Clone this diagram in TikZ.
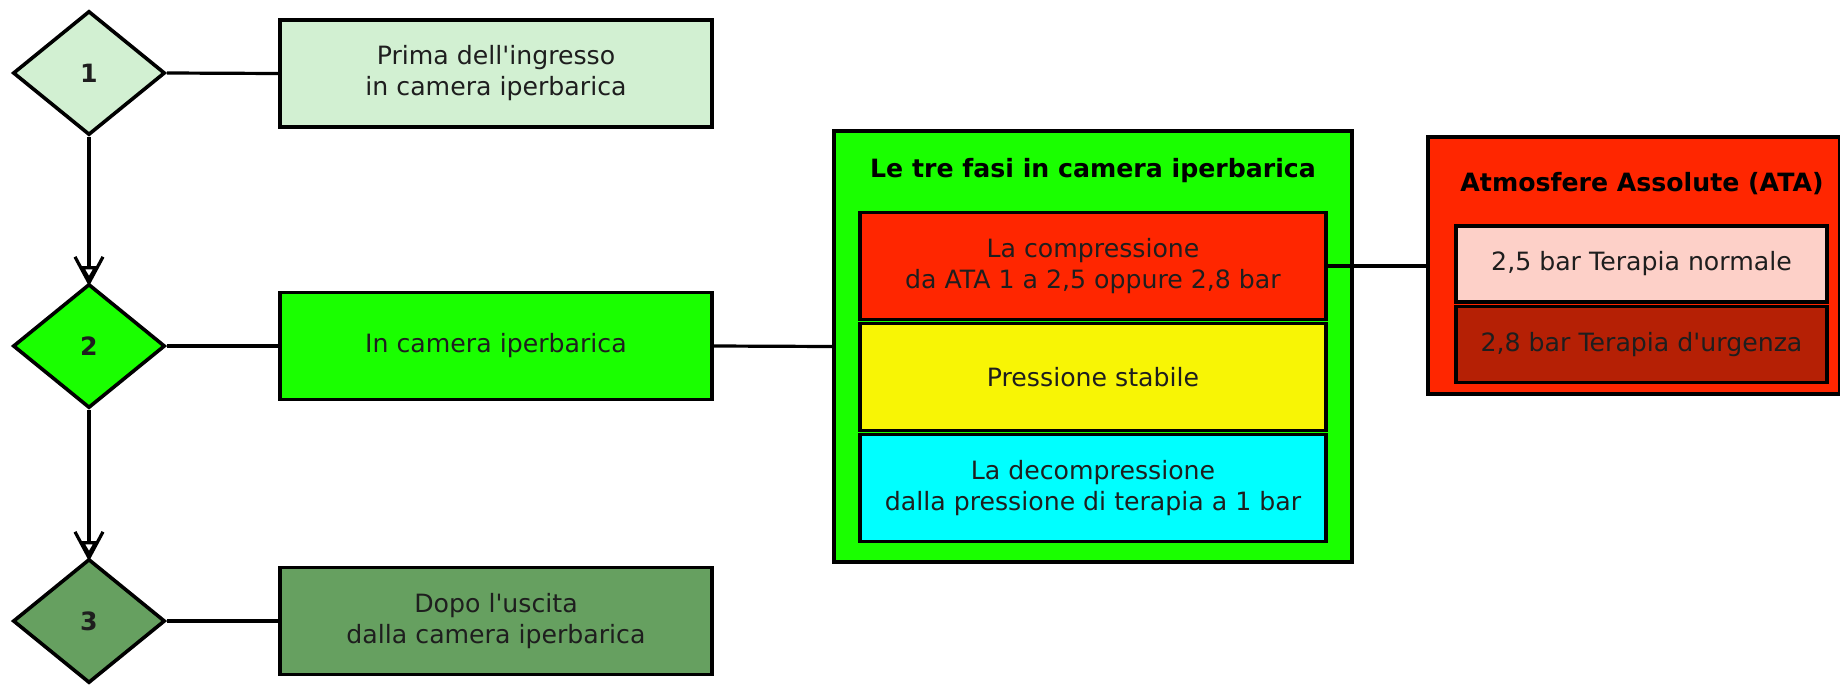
\documentclass[tikz,border=0pt]{standalone}
\usepackage{fontspec}
\setmainfont{DejaVu Sans}
\usetikzlibrary{shapes.geometric,arrows.meta}

\definecolor{paleverde}{RGB}{210,240,210}
\definecolor{verde}{RGB}{26,255,0}
\definecolor{verdescuro}{RGB}{102,160,96}
\definecolor{rosso}{RGB}{255,38,0}
\definecolor{giallo}{RGB}{248,245,5}
\definecolor{ciano}{RGB}{0,255,255}
\definecolor{rosa}{RGB}{253,208,200}
\definecolor{rossoscuro}{RGB}{181,32,5}
\definecolor{testo}{RGB}{30,30,30}

\tikzset{
  every node/.style={font=\fontsize{12.6}{15.5}\selectfont, text=testo},
  fase/.style={diamond, draw, line width=1.8pt, minimum width=76pt,
    minimum height=62pt, aspect=1.23, inner sep=0pt,
    font=\fontsize{12.6}{15.5}\selectfont\bfseries},
  tappa/.style={draw, line width=1.8pt, minimum width=216pt,
    minimum height=53.5pt, inner sep=0pt, align=center},
  gruppo/.style={draw, line width=1.8pt, inner sep=0pt},
  voce/.style={draw, line width=1.8pt, minimum width=233pt,
    minimum height=53.5pt, inner sep=0pt, align=center},
  pressione/.style={draw, line width=1.8pt, minimum width=185.5pt,
    minimum height=38pt, inner sep=0pt, align=center},
  titolo/.style={font=\fontsize{12.6}{15.5}\selectfont\bfseries, text=black},
  filo/.style={line width=1.6pt},
  freccia/.style={line width=1.6pt,
    -{Straight Barb[length=13pt,width=14pt,sep=-10pt]Triangle[open,fill=white,length=8pt,width=9pt]}}
}

\begin{document}
\begin{tikzpicture}[x=0.5pt,y=-0.5pt]
  \useasboundingbox (0,0) rectangle (1840,685);

  % le tre fasi
  \node[fase, fill=paleverde]  (f1) at (89,73)  {1};
  \node[fase, fill=verde]      (f2) at (89,346) {2};
  \node[fase, fill=verdescuro] (f3) at (89,621) {3};

  \node[tappa, fill=paleverde]  (prima) at (496,73.5)
    {Prima dell\textquotesingle ingresso\\in camera iperbarica};
  \node[tappa, fill=verde]      (dentro) at (496,346) {In camera iperbarica};
  \node[tappa, fill=verdescuro] (dopo) at (496,621)
    {Dopo l\textquotesingle uscita\\dalla camera iperbarica};

  \draw[freccia] (f1.south) -- (f2.north);
  \draw[freccia] (f2.south) -- (f3.north);
  \draw[filo] (f1.east) -- (prima.west);
  \draw[filo] (f2.east) -- (dentro.west);
  \draw[filo] (f3.east) -- (dopo.west);

  % dentro la camera
  \node[gruppo, fill=verde, minimum width=259pt, minimum height=215.5pt]
    (camera) at (1093,346.5) {};
  \node[titolo] (camtit) at (1093,171) {Le tre fasi in camera iperbarica};
  \node[voce, fill=rosso]  (compr) at (1093,266)
    {La compressione\\da ATA 1 a 2,5 oppure 2,8 bar};
  \node[voce, fill=giallo] (stabile) at (1093,377) {Pressione stabile};
  \node[voce, fill=ciano]  (decompr) at (1093,488)
    {La decompressione\\dalla pressione di terapia a 1 bar};
  \draw[filo] (dentro.east) -- (camera.west);

  % atmosfere assolute
  \node[gruppo, fill=rosso, minimum width=206pt, minimum height=128.5pt]
    (ata) at (1634,265.5) {};
  \node[titolo] (atatit) at (1642,184) {Atmosfere Assolute (ATA)};
  \node[pressione, fill=rosa]       (normale) at (1641.5,264) {2,5 bar Terapia normale};
  \node[pressione, fill=rossoscuro] (urgenza) at (1641.5,344.5) {2,8 bar Terapia d\textquotesingle urgenza};
  \draw[filo] (compr.east) -- (compr.east -| ata.west);
\end{tikzpicture}
\end{document}
